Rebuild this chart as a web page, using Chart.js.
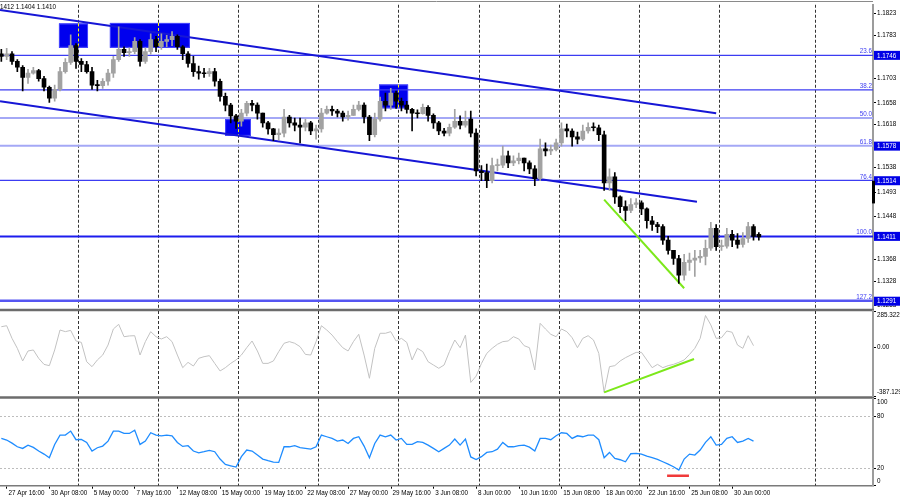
<!DOCTYPE html>
<html><head><meta charset="utf-8">
<script src="https://cdn.jsdelivr.net/npm/chart.js@4.4.1/dist/chart.umd.min.js"></script>
<style>
html,body{margin:0;padding:0;background:#fff;width:900px;height:500px;overflow:hidden}
canvas{position:absolute;left:0;top:0}
</style></head><body>
<canvas id="cMain" width="900" height="500"></canvas>
<canvas id="cCci" width="900" height="500"></canvas>
<canvas id="cRsi" width="900" height="500"></canvas>
<script>
// ---------- DATA (8-hour candles) ----------
const opens=[1.1749,1.1744,1.1749,1.1735,1.1724,1.1705,1.1713,1.1718,1.1703,1.1687,
1.1667,1.1683,1.1716,1.1733,1.1764,1.1735,1.1729,1.1716,1.1691,1.1690,
1.1698,1.1713,1.1738,1.1757,1.1751,1.1753,1.1772,1.1735,1.1753,1.1775,
1.1762,1.1772,1.1775,1.1781,1.1762,1.1749,1.1731,1.1716,1.1713,1.1712,
1.1716,1.1698,1.1670,1.1654,1.1634,1.1624,1.1639,1.1657,1.1654,1.1639,
1.1621,1.1610,1.1599,1.1602,1.1632,1.1621,1.1617,1.1613,1.1621,1.1606,
1.1610,1.1639,1.1646,1.1643,1.1639,1.1632,1.1635,1.1646,1.1654,1.1632,
1.1599,1.1628,1.1661,1.1654,1.1676,1.1661,1.1654,1.1646,1.1639,1.1638,
1.1650,1.1635,1.1621,1.1606,1.1602,1.1613,1.1624,1.1617,1.1628,1.1602,
1.1532,1.1529,1.1514,1.1542,1.1543,1.1560,1.1547,1.1551,1.1556,1.1547,
1.1536,1.1518,1.1573,1.1569,1.1572,1.1584,1.1610,1.1606,1.1595,1.1591,
1.1606,1.1613,1.1612,1.1599,1.1510,1.1521,1.1484,1.1466,1.1459,1.1470,
1.1473,1.1462,1.1440,1.1433,1.1429,1.1404,1.1385,1.1370,1.1339,1.1363,
1.1367,1.1371,1.1374,1.1389,1.1426,1.1392,1.1393,1.1415,1.1404,1.1396,
1.1407,1.1429,1.1415];
const highs=[1.1757,1.1759,1.1753,1.1738,1.1727,1.1720,1.1724,1.1720,1.1707,1.1689,
1.1691,1.1724,1.1740,1.1784,1.1768,1.1740,1.1735,1.1724,1.1700,1.1703,
1.1720,1.1744,1.1799,1.1762,1.1760,1.1779,1.1775,1.1760,1.1786,1.1781,
1.1786,1.1783,1.1790,1.1784,1.1764,1.1753,1.1744,1.1726,1.1722,1.1722,
1.1722,1.1702,1.1676,1.1657,1.1637,1.1646,1.1661,1.1663,1.1658,1.1639,
1.1624,1.1611,1.1610,1.1646,1.1635,1.1630,1.1630,1.1628,1.1624,1.1617,
1.1648,1.1652,1.1652,1.1646,1.1643,1.1643,1.1654,1.1661,1.1658,1.1635,
1.1639,1.1669,1.1676,1.1685,1.1680,1.1667,1.1661,1.1648,1.1645,1.1656,
1.1653,1.1638,1.1624,1.1611,1.1619,1.1646,1.1634,1.1643,1.1643,1.1610,
1.1542,1.1545,1.1556,1.1554,1.1578,1.1569,1.1560,1.1565,1.1556,1.1551,
1.1542,1.1591,1.1584,1.1580,1.1591,1.1621,1.1619,1.1610,1.1604,1.1617,
1.1621,1.1621,1.1617,1.1606,1.1536,1.1529,1.1486,1.1477,1.1481,1.1481,
1.1477,1.1464,1.1448,1.1437,1.1433,1.1411,1.1385,1.1376,1.1378,1.1380,
1.1385,1.1385,1.1404,1.1437,1.1433,1.1404,1.1426,1.1422,1.1416,1.1418,
1.1437,1.1433,1.1418];
const lows=[1.1735,1.1738,1.1729,1.1716,1.1680,1.1694,1.1711,1.1698,1.1680,1.1659,
1.1661,1.1680,1.1713,1.1729,1.1722,1.1716,1.1713,1.1683,1.1680,1.1685,
1.1691,1.1705,1.1735,1.1744,1.1744,1.1749,1.1726,1.1731,1.1748,1.1753,
1.1757,1.1762,1.1764,1.1757,1.1738,1.1724,1.1707,1.1702,1.1705,1.1707,
1.1689,1.1661,1.1643,1.1621,1.1611,1.1615,1.1634,1.1643,1.1628,1.1613,
1.1600,1.1588,1.1589,1.1595,1.1613,1.1606,1.1584,1.1606,1.1599,1.1591,
1.1604,1.1637,1.1635,1.1632,1.1624,1.1626,1.1635,1.1643,1.1621,1.1588,
1.1595,1.1624,1.1643,1.1646,1.1648,1.1643,1.1639,1.1606,1.1630,1.1637,
1.1624,1.1611,1.1599,1.1597,1.1597,1.1611,1.1610,1.1613,1.1595,1.1523,
1.1514,1.1501,1.1510,1.1532,1.1538,1.1538,1.1542,1.1545,1.1532,1.1527,
1.1505,1.1514,1.1560,1.1562,1.1569,1.1578,1.1595,1.1578,1.1582,1.1588,
1.1602,1.1606,1.1588,1.1496,1.1496,1.1472,1.1455,1.1440,1.1455,1.1464,
1.1451,1.1426,1.1422,1.1418,1.1396,1.1378,1.1359,1.1324,1.1330,1.1348,
1.1337,1.1363,1.1358,1.1385,1.1385,1.1385,1.1389,1.1392,1.1389,1.1391,
1.1400,1.1404,1.1404];
const closes=[1.1744,1.1749,1.1735,1.1724,1.1705,1.1713,1.1718,1.1703,1.1687,1.1667,
1.1683,1.1716,1.1733,1.1764,1.1735,1.1729,1.1716,1.1691,1.1690,1.1698,
1.1713,1.1738,1.1757,1.1751,1.1753,1.1772,1.1735,1.1753,1.1775,1.1762,
1.1772,1.1775,1.1781,1.1762,1.1749,1.1731,1.1716,1.1713,1.1712,1.1716,
1.1698,1.1670,1.1654,1.1634,1.1624,1.1639,1.1657,1.1654,1.1639,1.1621,
1.1610,1.1599,1.1602,1.1632,1.1621,1.1617,1.1613,1.1621,1.1606,1.1610,
1.1639,1.1646,1.1643,1.1639,1.1632,1.1635,1.1646,1.1654,1.1632,1.1599,
1.1628,1.1661,1.1654,1.1676,1.1661,1.1654,1.1646,1.1639,1.1638,1.1650,
1.1635,1.1621,1.1606,1.1602,1.1613,1.1624,1.1617,1.1624,1.1602,1.1532,
1.1529,1.1514,1.1542,1.1543,1.1560,1.1547,1.1551,1.1556,1.1547,1.1536,
1.1518,1.1573,1.1569,1.1572,1.1584,1.1610,1.1606,1.1595,1.1591,1.1606,
1.1613,1.1612,1.1599,1.1510,1.1521,1.1484,1.1466,1.1459,1.1470,1.1473,
1.1462,1.1440,1.1433,1.1429,1.1404,1.1385,1.1370,1.1339,1.1363,1.1367,
1.1371,1.1374,1.1389,1.1426,1.1392,1.1393,1.1415,1.1404,1.1396,1.1407,
1.1429,1.1411,1.1410];
const cciValues=[161,169,69,-10,-110,-31,-23,-89,-137,-147,
-23,135,122,132,48,37,-116,-155,-102,-63,
16,143,180,82,88,90,-63,43,122,82,
64,82,43,-63,-163,-121,-150,-89,-76,-68,
-129,-189,-163,-129,-102,-63,-5,48,-31,-129,
-129,-110,-36,30,43,30,3,-58,-63,43,
169,135,95,43,-5,-31,43,101,-63,-247,
-10,109,109,122,48,69,37,-102,-10,-36,
-116,-142,-168,-142,-36,56,-5,95,-280,-230,
-130,-50,-10,22,43,48,82,64,11,-5,
-181,188,143,101,82,143,122,74,-5,69,
90,56,-50,-358,-155,-147,-110,-84,-63,-42,
-42,-102,-163,-137,-163,-147,-137,-121,-102,-58,
-10,69,250,175,69,74,127,117,16,-10,
90,11,null];
const rsiValues=[54.3,52.4,48.9,44.7,42.8,46.6,44.0,39.8,36.3,32.1,
47.4,58.1,58.1,62.7,52.8,53.1,49.7,39.8,43.6,45.5,
51.2,62.7,62.7,60.0,60.0,63.8,47.4,51.2,60.8,58.1,
57.3,58.1,57.3,49.7,45.1,45.9,39.8,37.8,39.0,40.5,
39.0,30.6,24.5,22.9,21.4,33.3,40.9,39.8,35.2,30.6,
28.7,27.1,26.8,44.7,44.7,45.9,43.6,42.8,42.0,44.7,
58.1,56.2,54.3,51.2,52.4,48.5,54.3,56.2,45.5,32.1,
48.5,58.1,56.2,58.1,52.4,54.3,47.4,47.4,50.5,49.7,
46.6,42.8,39.0,42.8,46.6,53.5,46.6,53.5,33.0,30.0,
33.3,38.2,39.0,42.0,49.7,44.7,44.7,45.9,46.6,44.3,
39.8,54.3,54.3,52.8,57.3,60.8,60.0,54.3,57.3,56.2,
58.1,58.1,52.8,32.1,38.2,31.3,29.8,27.5,36.7,37.1,
36.3,34.0,32.1,30.2,27.5,24.8,21.8,17.9,30.6,36.3,
35.2,40.9,49.7,56.2,46.6,47.4,54.3,56.2,49.7,51.2,
54.3,51.2,null];

// tick labels
const priceTicks=[1.1823,1.1783,1.1703,1.1658,1.1618,1.1538,1.1493,1.1448,1.1368,1.1328,1.1283];
const markedPrices=[1.1746,1.1578,1.1514,1.1411,1.1291];
const fibLevels=[1.1746,1.1682,1.1630,1.15785,1.15145,1.1411,1.12917];
const fibNames=['23.6','38.2','50.0','61.8','76.4','100.0','127.2'];
const cciTicks=[285.322,0,-387.129];
const rsiTicks=[100,80,20,0];
const timeLabels=['27 Apr 16:00','30 Apr 08:00','5 May 00:00','7 May 16:00','12 May 08:00','15 May 00:00','19 May 16:00','22 May 08:00','27 May 00:00','29 May 16:00','3 Jun 08:00','8 Jun 00:00','10 Jun 16:00','15 Jun 08:00','18 Jun 00:00','22 Jun 16:00','25 Jun 08:00','30 Jun 00:00'];
const timeSlots=[2.6,18.6,34.6,50.6,66.6,82.6,98.6,114.6,130.6,146.6,162.6,178.6,194.6,210.6,226.6,242.6,258.6,274.6];
const gridSlots=[29.4,59.4,89.4,119.4,149.4,179.4,209.4,239.4,269.4,305.6];

// drawn objects (data coordinates: slot, price)
const channelUpper=[[0,1.1830],[268.5,1.1639]];
const channelLower=[[0,1.1661],[261.3,1.1475]];
const greenPrice=[[226.5,1.1479],[256.5,1.1315]];
const greenCci=[[226.5,-358],[260.2,-94]];
const redRsi=[[250.1,11.5],[258.3,11.5]];
const boxes=[[22.1,33.0,1.1805,1.1760],[41.2,71.2,1.1806,1.1760],[84.4,94.1,1.1628,1.1597],[142.1,153.0,1.1692,1.1648]];
const askBar=[1.1514,1.1472];
const headerText='1.1412 1.1404 1.1410';

// ---------- RENDER ----------
const FONT="'Liberation Sans', Arial, sans-serif";
const FS=6.3;
Chart.defaults.font.family=FONT;
Chart.defaults.animation=false;
const X_MIN=0, X_MAX=327.3;
const xs=closes.map((_,j)=>2*j+0.5);
const toPts=a=>a.map(p=>({x:p[0],y:p[1]}));

function rightAxis(min,max,ticks,fmt,hideLabels){
  return {position:'right',min,max,
    afterFit(s){s.width=27;},
    afterBuildTicks(s){s.ticks=ticks.map(v=>({value:v}));},
    ticks:{autoSkip:false,color:hideLabels?'rgba(0,0,0,0)':'#000',font:{size:FS},padding:1,callback:v=>fmt(v)},
    grid:{drawOnChartArea:false,drawTicks:true,tickLength:3,tickColor:'#000',color:'#000'},
    border:{display:true,color:'#9c9c9c',width:2}};
}
// labels of small panels kept inside their panel (as the terminal does)
function clampedLabels(ticks,fmt){return {id:'clampLabels',afterDraw(chart){
  const {ctx,chartArea:a,scales:{y}}=chart;
  ctx.save();ctx.font=FS+'px '+FONT;ctx.fillStyle='#000';ctx.textAlign='left';ctx.textBaseline='middle';
  ticks.forEach(v=>{let py=y.getPixelForValue(v);py=Math.min(Math.max(py,a.top+4),a.bottom-4);
    ctx.fillText(fmt(v),a.right+4,py);});
  ctx.restore();}};}
const hiddenX={type:'linear',min:X_MIN,max:X_MAX,offset:false,display:false};
const vGrid={id:'vgrid',beforeDatasetsDraw(chart){
  const {ctx,chartArea:a,scales:{x}}=chart;
  ctx.save();ctx.strokeStyle='#333';ctx.lineWidth=1;ctx.setLineDash([3,2]);
  gridSlots.forEach(s=>{const px=Math.round(x.getPixelForValue(s))+0.5;
    ctx.beginPath();ctx.moveTo(px,a.top);ctx.lineTo(px,a.bottom);ctx.stroke();});
  ctx.restore();}};
const baseOpts={responsive:false,devicePixelRatio:1,animation:false,events:[],
  plugins:{legend:{display:false},tooltip:{enabled:false}}};
function line(pts,color,w,order){return {type:'line',data:pts,borderColor:color,borderWidth:w,pointRadius:0,fill:false,tension:0,order:order||5};}

// ---- main price chart ----
const upCol='#a2a2a2', dnCol='#000000';
const candleCol=closes.map((c,j)=>c>=opens[j]?upCol:dnCol);
const mainDatasets=[
  {type:'bar',data:closes.map((c,j)=>({x:xs[j],y:[opens[j],c]})),backgroundColor:candleCol,barThickness:4,minBarLength:1,borderWidth:0,grouped:false,order:0},
  {type:'bar',data:closes.map((c,j)=>({x:xs[j],y:[lows[j],highs[j]]})),backgroundColor:candleCol,barThickness:1,minBarLength:1,borderWidth:0,grouped:false,order:1}
];
const fibStyle=[['#3c3cf2',1.2],['#3c3cf2',1.2],['#a4a8f6',2],['#a4a8f6',2],['#3c3cf2',1.2],['#1c1cee',2],['#5656f2',2.5]];
fibLevels.forEach((p,i)=>mainDatasets.push(line([{x:X_MIN,y:p},{x:X_MAX,y:p}],fibStyle[i][0],fibStyle[i][1],6)));
mainDatasets.push(line(toPts(channelUpper),'#1616d6',2,4));
mainDatasets.push(line(toPts(channelLower),'#1616d6',2,4));
mainDatasets.push(line(toPts(greenPrice),'#7ce81a',2,3));

const mainPlugin={id:'mainDeco',
  beforeDatasetsDraw(chart){
    const {ctx,scales:{x,y}}=chart;
    ctx.save();
    boxes.forEach(b=>{
      const x1=x.getPixelForValue(b[0]),x2=x.getPixelForValue(b[1]),y1=y.getPixelForValue(b[2]),y2=y.getPixelForValue(b[3]);
      ctx.fillStyle='#0000ee';ctx.fillRect(x1,y1,x2-x1,y2-y1);
      ctx.strokeStyle='#4646ff';ctx.lineWidth=1;ctx.strokeRect(x1+0.5,y1+0.5,x2-x1-1,y2-y1-1);
      ctx.strokeStyle='#ffff00';ctx.setLineDash([3,2]);
      gridSlots.forEach(s=>{const px=Math.round(x.getPixelForValue(s))+0.5;
        if(px>x1&&px<x2){ctx.beginPath();ctx.moveTo(px,y1);ctx.lineTo(px,y2);ctx.stroke();}});
      ctx.setLineDash([]);
    });
    ctx.restore();
  },
  afterDraw(chart){
    const {ctx,chartArea:a,scales:{y}}=chart;
    ctx.save();
    ctx.font=FS+'px '+FONT;
    ctx.fillStyle='#3c3cf2';ctx.textAlign='right';ctx.textBaseline='bottom';
    fibLevels.forEach((p,i)=>ctx.fillText(fibNames[i],a.right-1,y.getPixelForValue(p)-0.5));
    ctx.textAlign='left';ctx.textBaseline='middle';
    markedPrices.forEach(p=>{const py=y.getPixelForValue(p);
      ctx.fillStyle='#0000e6';ctx.fillRect(a.right+1,py-4.5,26,9);
      ctx.fillStyle='#fff';ctx.fillText(p.toFixed(4),a.right+4,py+0.5);});
    const b1=y.getPixelForValue(askBar[0]),b2=y.getPixelForValue(askBar[1]);
    ctx.fillStyle='#000';ctx.fillRect(a.right-1,b1,3,b2-b1);
    ctx.fillStyle='#000';ctx.textAlign='left';ctx.textBaseline='middle';
    ctx.fillText(headerText,-5.3,7);
    ctx.strokeStyle='#8a8a8a';ctx.lineWidth=1;
    ctx.beginPath();ctx.moveTo(0,1.5);ctx.lineTo(a.right,1.5);ctx.stroke();
    ctx.strokeStyle='#6c6c6c';ctx.lineWidth=2.5;
    [310,397.6].forEach(py=>{ctx.beginPath();ctx.moveTo(0,py);ctx.lineTo(a.right+1,py);ctx.stroke();});
    ctx.restore();
  }};

new Chart(document.getElementById('cMain'),{type:'bar',
  data:{datasets:mainDatasets},
  options:Object.assign({},baseOpts,{
    layout:{padding:{top:3,bottom:191,left:0,right:0}},
    scales:{x:hiddenX,y:rightAxis(1.12766,1.18396,priceTicks,v=>v.toFixed(4),false)}}),
  plugins:[vGrid,mainPlugin]});

// ---- CCI panel ----
const cciFmt=v=>v===0?'0.00':String(v);
new Chart(document.getElementById('cCci'),{type:'line',
  data:{datasets:[
    line(cciValues.map((v,j)=>({x:xs[j],y:v})),'#c2c2c2',1,2),
    line(toPts(greenCci),'#7ce81a',2,1)]},
  options:Object.assign({},baseOpts,{
    layout:{padding:{top:311,bottom:104,left:0,right:0}},
    scales:{x:hiddenX,y:rightAxis(-387.129,285.322,cciTicks,cciFmt,true)}}),
  plugins:[vGrid,clampedLabels(cciTicks,cciFmt)]});

// ---- RSI panel ----
const rsiLevels={id:'rsiLevels',beforeDatasetsDraw(chart){
  const {ctx,chartArea:a,scales:{y}}=chart;
  ctx.save();ctx.strokeStyle='#bdbdbd';ctx.lineWidth=1;ctx.setLineDash([2,2]);
  [80,20].forEach(v=>{const py=Math.round(y.getPixelForValue(v))+0.5;
    ctx.beginPath();ctx.moveTo(a.left,py);ctx.lineTo(a.right,py);ctx.stroke();});
  ctx.restore();}};
const rsiFmt=v=>String(v);
new Chart(document.getElementById('cRsi'),{type:'line',
  data:{datasets:[
    line(rsiValues.map((v,j)=>({x:xs[j],y:v})),'#1e8cff',1.3,2),
    line(toPts(redRsi),'#f03a3a',2.5,1)]},
  options:Object.assign({},baseOpts,{
    layout:{padding:{top:398.6,bottom:0,left:0,right:0}},
    scales:{
      x:{type:'linear',min:X_MIN,max:X_MAX,offset:false,position:'bottom',
        afterFit(s){s.height=14.3;},
        afterBuildTicks(s){s.ticks=timeSlots.map(v=>({value:v}));},
        ticks:{autoSkip:false,maxRotation:0,minRotation:0,align:'start',color:'#000',font:{size:FS},padding:1,labelOffset:1.5,callback:(v,i)=>timeLabels[i]},
        grid:{drawOnChartArea:false,drawTicks:true,tickLength:3,tickColor:'#000',color:'#000'},
        border:{display:true,color:'#7a7a7a',width:1.5}},
      y:rightAxis(0,100,rsiTicks,rsiFmt,true)}}),
  plugins:[vGrid,rsiLevels,clampedLabels(rsiTicks,rsiFmt)]});
</script>
</body></html>
